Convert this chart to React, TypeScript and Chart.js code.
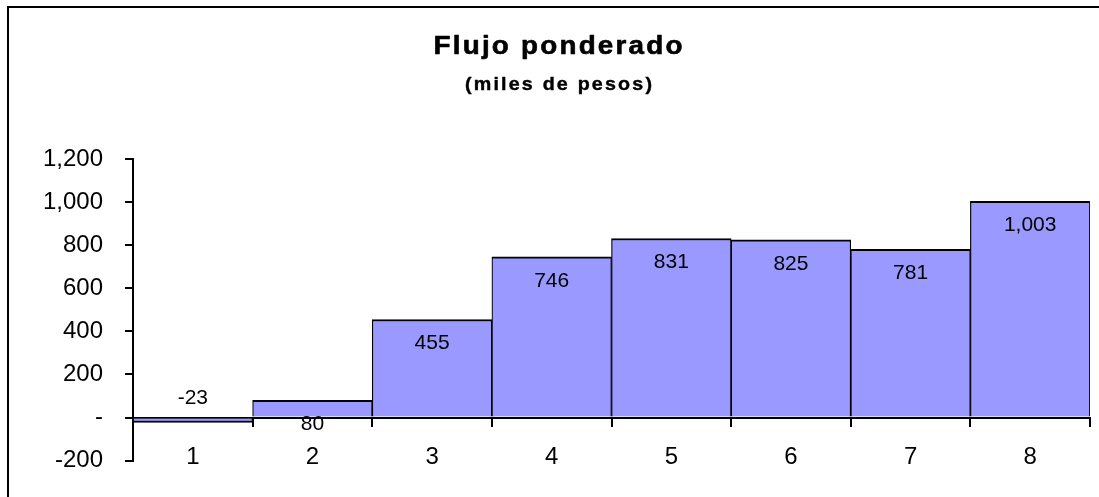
import React, { useEffect, useRef } from "react";
import { Chart, registerables } from "chart.js";

Chart.register(...registerables);

const categories: string[] = ["1", "2", "3", "4", "5", "6", "7", "8"];
const flujoValues: number[] = [-23, 80, 455, 746, 831, 825, 781, 1003];
const titleText = "Flujo ponderado";
const subtitleText = "(miles de pesos)";
const yMin = -200;
const yMax = 1200;
const yStep = 200;

const FONT = "'Liberation Sans', Arial, sans-serif";

const fmt = (v: number) => v.toLocaleString("en-US");

function drawStretched(
  ctx: CanvasRenderingContext2D,
  text: string,
  font: string,
  cx: number,
  baseline: number,
  targetWidth: number,
  spacing: number,
  weight: number
) {
  ctx.save();
  ctx.font = font;
  (ctx as any).letterSpacing = spacing + "px";
  ctx.textBaseline = "alphabetic";
  ctx.textAlign = "left";
  ctx.fillStyle = "#000";
  ctx.strokeStyle = "#000";
  const w = ctx.measureText(text).width - spacing;
  const sx = targetWidth / w;
  ctx.translate(cx - targetWidth / 2, baseline);
  ctx.scale(sx, 1);
  ctx.fillText(text, 0, 0);
  if (weight > 0) {
    ctx.lineWidth = weight;
    ctx.lineJoin = "round";
    ctx.strokeText(text, 0, 0);
  }
  ctx.restore();
}

const decorPlugin = {
  id: "decor",
  afterDraw(chart: any) {
    const ctx: CanvasRenderingContext2D = chart.ctx;
    ctx.save();
    ctx.strokeStyle = "#000";
    ctx.lineWidth = 2;
    ctx.strokeRect(8, 7, chart.width + 20, chart.height + 20);
    ctx.restore();
    drawStretched(ctx, titleText, `bold 25px ${FONT}`, 558, 54, 249, 2, 0.6);
    drawStretched(ctx, subtitleText, `bold 18px ${FONT}`, 558.5, 90, 187, 2, 0.4);
  },
};

const labelPlugin = {
  id: "barLabels",
  afterDatasetsDraw(chart: any) {
    const ctx: CanvasRenderingContext2D = chart.ctx;
    const meta = chart.getDatasetMeta(0);
    const data = chart.data.datasets[0].data as number[];
    ctx.save();
    ctx.font = `21px ${FONT}`;
    ctx.fillStyle = "#000";
    ctx.textAlign = "center";
    ctx.textBaseline = "middle";
    meta.data.forEach((el: any, i: number) => {
      const dir = el.base >= el.y ? 1 : -1;
      ctx.fillText(fmt(data[i]), el.x, el.y + dir * 24);
    });
    ctx.restore();
  },
};

export default function App() {
  const ref = useRef<HTMLCanvasElement | null>(null);

  useEffect(() => {
    document.body.style.margin = "0";
    if (!ref.current) return;
    const chart = new Chart(ref.current, {
      type: "bar",
      data: {
        labels: categories,
        datasets: [
          {
            data: flujoValues,
            backgroundColor: "#9999FF",
            borderColor: "#000",
            borderWidth: { top: 2, bottom: 2, left: 1.2, right: 1.2 } as any,
            borderSkipped: "start",
            categoryPercentage: 1,
            barPercentage: 1,
          },
        ],
      },
      options: {
        animation: false,
        responsive: false,
        maintainAspectRatio: false,
        layout: { padding: { top: 159, right: 9, bottom: 36, left: 0 } },
        plugins: {
          legend: { display: false },
          title: { display: false },
          tooltip: { enabled: false },
        },
        scales: {
          x: {
            type: "category",
            position: { y: 0 } as any,
            offset: true,
            grid: {
              drawOnChartArea: false,
              drawTicks: true,
              tickLength: 8,
              offset: true,
              color: "#000",
              lineWidth: 2,
            },
            border: { display: true, color: "#000", width: 2 },
            ticks: {
              color: "#000",
              font: { family: FONT, size: 24 },
              padding: 17,
              maxRotation: 0,
            },
            afterFit: (s: any) => {
              s.height = 0;
            },
          },
          y: {
            min: yMin,
            max: yMax,
            grid: {
              drawOnChartArea: false,
              drawTicks: true,
              tickLength: 8,
              color: "#000",
              lineWidth: 2,
            },
            border: { display: true, color: "#000", width: 2 },
            ticks: {
              stepSize: yStep,
              color: "#000",
              font: { family: FONT, size: 24 },
              padding: 22,
              callback: (v: any) => (Number(v) === 0 ? "-" : fmt(Number(v))),
            },
            afterFit: (s: any) => {
              s.width = 133;
            },
          },
        },
      },
      plugins: [labelPlugin, decorPlugin],
    });
    return () => chart.destroy();
  }, []);

  return (
    <div style={{ width: 1099, height: 497, background: "#fff" }}>
      <canvas ref={ref} width={1099} height={497} style={{ display: "block" }} />
    </div>
  );
}
